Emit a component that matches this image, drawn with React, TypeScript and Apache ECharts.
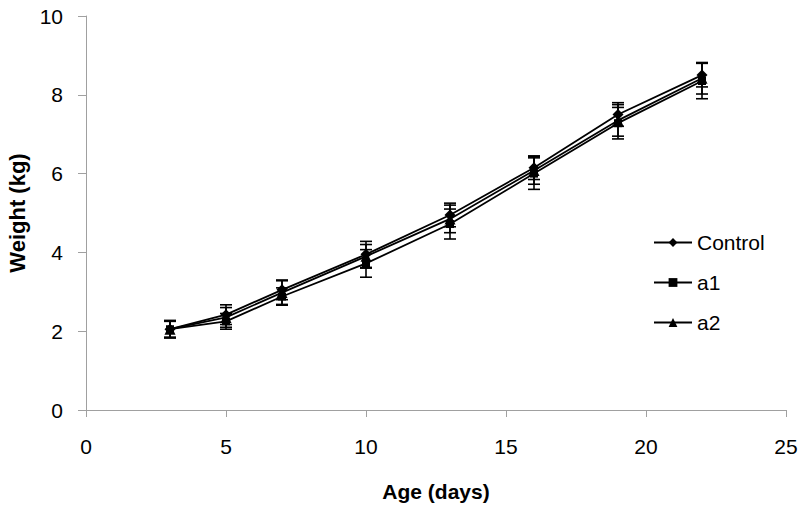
import React, { useEffect, useRef } from "react";
import * as echarts from "echarts";

const ages = [3, 5, 7, 10, 13, 16, 19, 22];
const controlMean = [2.05, 2.42, 3.05, 3.95, 4.95, 6.15, 7.5, 8.5];
const controlErr = [0.2, 0.25, 0.25, 0.33, 0.3, 0.3, 0.3, 0.3];
const a1Mean = [2.05, 2.25, 2.88, 3.72, 4.72, 6.0, 7.28, 8.35];
const a1Err = [0.22, 0.2, 0.22, 0.35, 0.38, 0.4, 0.4, 0.45];
const a2Mean = [2.05, 2.35, 2.98, 3.9, 4.85, 6.08, 7.35, 8.42];
const a2Err = [0.22, 0.25, 0.3, 0.3, 0.35, 0.35, 0.4, 0.4];

const seriesDefs = [
  { name: "Control", mean: controlMean, err: controlErr, symbol: "diamond", size: 11 },
  { name: "a1", mean: a1Mean, err: a1Err, symbol: "rect", size: 8 },
  { name: "a2", mean: a2Mean, err: a2Err, symbol: "triangle", size: 11 },
];

const FONT = "'Liberation Sans', Arial, sans-serif";

export default function App() {
  const ref = useRef<HTMLDivElement>(null);
  useEffect(() => {
    if (!ref.current) return;
    const chart = echarts.init(ref.current, undefined, { renderer: "svg" });
    const series: any[] = [];
    seriesDefs.forEach((s) => {
      series.push({
        name: s.name,
        type: "line",
        data: ages.map((a, i) => [a, s.mean[i]]),
        symbol: s.symbol,
        symbolSize: s.size,
        showAllSymbol: true,
        lineStyle: { color: "#000", width: 1.8 },
        itemStyle: { color: "#000" },
        z: 3,
      });
      series.push({
        name: s.name + " err",
        type: "custom",
        data: ages.map((a, i) => [a, s.mean[i] - s.err[i], s.mean[i] + s.err[i]]),
        renderItem: (params: any, api: any) => {
          const x = api.value(0);
          const lo = api.coord([x, api.value(1)]);
          const hi = api.coord([x, api.value(2)]);
          const hw = 6;
          const st = { stroke: "#000", lineWidth: 1.6 };
          return {
            type: "group",
            children: [
              { type: "line", shape: { x1: lo[0], y1: lo[1], x2: hi[0], y2: hi[1] }, style: st },
              { type: "line", shape: { x1: lo[0] - hw, y1: lo[1], x2: lo[0] + hw, y2: lo[1] }, style: st },
              { type: "line", shape: { x1: hi[0] - hw, y1: hi[1], x2: hi[0] + hw, y2: hi[1] }, style: st },
            ],
          };
        },
        z: 2,
        silent: true,
      });
    });
    chart.setOption({
      animation: false,
      backgroundColor: "#fff",
      grid: { left: 86, right: 14, top: 16, bottom: 101, outerBoundsMode: "none", containLabel: false },
      legend: {
        data: seriesDefs.map((s) => s.name),
        orient: "vertical",
        left: 648,
        top: 227,
        itemWidth: 38,
        itemHeight: 11,
        itemGap: 19,
        textStyle: { fontFamily: FONT, fontSize: 21, color: "#000" },
      },
      xAxis: {
        type: "value",
        min: 0,
        max: 25,
        interval: 5,
        name: "Age (days)",
        nameLocation: "middle",
        nameGap: 71,
        nameTextStyle: { fontFamily: FONT, fontSize: 21, fontWeight: "bold", color: "#000" },
        axisLine: { show: true, lineStyle: { color: "#a0a0a0", width: 1 } },
        axisTick: { show: true, length: 7, lineStyle: { color: "#a0a0a0" } },
        axisLabel: { fontFamily: FONT, fontSize: 21, color: "#000", margin: 26 },
        splitLine: { show: false },
      },
      yAxis: {
        type: "value",
        min: 0,
        max: 10,
        interval: 2,
        name: "Weight (kg)",
        nameLocation: "middle",
        nameGap: 57,
        nameTextStyle: { fontFamily: FONT, fontSize: 22, fontWeight: "bold", color: "#000" },
        axisLine: { show: true, lineStyle: { color: "#a0a0a0", width: 1 } },
        axisTick: { show: true, length: 8, lineStyle: { color: "#a0a0a0" } },
        axisLabel: { fontFamily: FONT, fontSize: 21, color: "#000", margin: 23 },
        splitLine: { show: false },
      },
      series,
    });
    return () => chart.dispose();
  }, []);
  return <div ref={ref} style={{ width: 800, height: 511, position: "absolute", left: 0, top: 0 }} />;
}
